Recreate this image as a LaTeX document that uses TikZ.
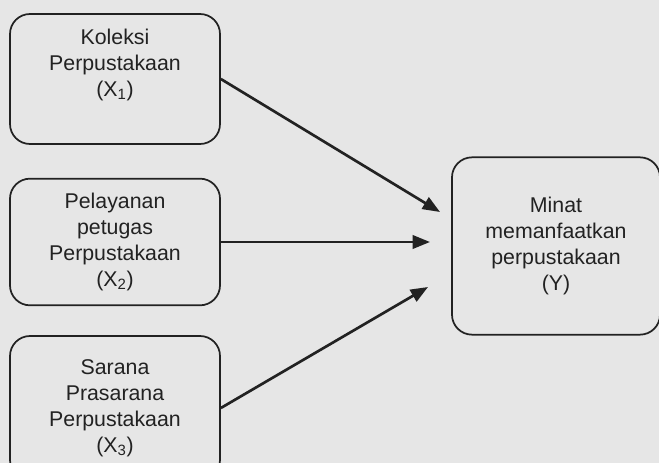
\documentclass[tikz,border=0pt]{standalone}
\usepackage{fontspec}
\setmainfont{Liberation Sans}
\usetikzlibrary{arrows.meta}
\definecolor{paper}{HTML}{E6E6E6}
\definecolor{ink}{HTML}{222222}
\tikzset{
  varbox/.style={draw=ink, line width=1.3pt, rounded corners=15pt, align=center,
    text=ink, font=\fontsize{16}{19.5}\selectfont, minimum width=157.5pt, inner sep=0pt},
  effect/.style={draw=ink, line width=2pt, -{Triangle[length=13pt,width=10pt]}}
}
\begin{document}
\begin{tikzpicture}[x=0.75pt,y=-0.75pt]
  % Paper
  \useasboundingbox (0,0) rectangle (659,463);
  \fill[paper] (0,0) rectangle (659,463);
  \clip (0,0) rectangle (659,463);

  % Variables
  \node[varbox, minimum height=97.5pt] (x1) at (115,79) {Koleksi\\Perpustakaan\\(X\textsubscript{1})\\[5pt]};
  \node[varbox, minimum height=95pt] (x2) at (115,242) {Pelayanan\\petugas\\Perpustakaan\\(X\textsubscript{2})};
  \node[varbox, minimum height=108pt] (x3) at (115,408) {Sarana\\Prasarana\\Perpustakaan\\(X\textsubscript{3})};
  \node[varbox, minimum width=156pt, minimum height=133pt] (y) at (556,246) {Minat\\memanfaatkan\\perpustakaan\\(Y)};

  % Arrows
  \coordinate (t1) at (440,212);
  \coordinate (t2) at (430,242);
  \coordinate (t3) at (428,287);
  \draw[effect] (x1.east) -- (t1);
  \draw[effect] (x2.east) -- (t2);
  \draw[effect] (x3.east) -- (t3);
\end{tikzpicture}
\end{document}
